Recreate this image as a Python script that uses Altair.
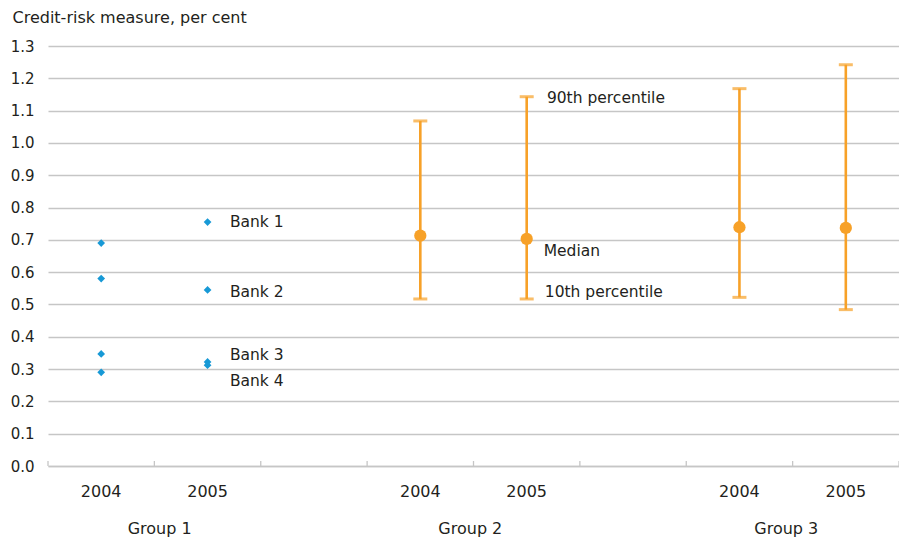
import altair as alt
import pandas as pd

FONT = "DejaVu Sans"
TXT = "#231f20"
GRID = "#c6c6c6"
BLUE = "#1799d6"
ORANGE = "#f7a128"

# category slots (8 slots, two empty spacers)
tick_pos = [0, 1, 2, 3, 4, 5, 6, 7, 8]
year_pos = [0.5, 1.5, 3.5, 4.5, 6.5, 7.5]
year_text = ["2004", "2005", "2004", "2005", "2004", "2005"]
group_pos = [1.05, 3.97, 6.94]
group_text = ["Group 1", "Group 2", "Group 3"]
y_ticks = [0.0, 0.1, 0.2, 0.3, 0.4, 0.5, 0.6, 0.7, 0.8, 0.9, 1.0, 1.1, 1.2, 1.3]

# Group 1: individual banks
bank_x = [0.5, 0.5, 0.5, 0.5, 1.5, 1.5, 1.5, 1.5]
bank_vals = [0.69, 0.58, 0.347, 0.29, 0.755, 0.545, 0.322, 0.312]

# Groups 2 and 3: percentiles
pct_x = [3.5, 4.5, 6.5, 7.5]
p10 = [0.517, 0.517, 0.522, 0.484]
median = [0.713, 0.703, 0.739, 0.737]
p90 = [1.068, 1.143, 1.168, 1.242]

# annotations
ann_text = ["Bank 1", "Bank 2", "Bank 3", "Bank 4",
            "90th percentile", "Median", "10th percentile"]
ann_x = [1.71, 1.71, 1.71, 1.71, 4.69, 4.66, 4.67]
ann_y = [0.755, 0.54, 0.344, 0.263, 1.139, 0.666, 0.539]

W, H = 851, 420
xs = alt.Scale(domain=[0, 8], nice=False, zero=False)
ys = alt.Scale(domain=[0, 1.3], nice=False)

banks = pd.DataFrame({"x": bank_x, "v": bank_vals})
pct = pd.DataFrame({"x": pct_x, "lo": p10, "med": median, "hi": p90})
ann = pd.DataFrame({"x": ann_x, "y": ann_y, "t": ann_text})
years = pd.DataFrame({"x": year_pos, "t": year_text})
groups = pd.DataFrame({"x": group_pos, "t": group_text})
ticks = pd.DataFrame({"x": tick_pos})

Y_AXIS = alt.Axis(
    values=y_ticks, format=".1f", labelOverlap=False, tickCount=14,
    grid=True, gridColor=GRID, gridWidth=1.3, domain=False, ticks=False,
    labelFont=FONT, labelFontSize=15, labelColor=TXT, labelPadding=14,
    title="Credit-risk measure, per cent", titleAngle=0, titleAlign="left",
    titleX=-36, titleY=-29, titleBaseline="middle", titleFont=FONT,
    titleFontSize=16, titleFontWeight="normal", titleColor=TXT,
)
X_AXIS = alt.Axis(
    values=tick_pos, labels=False, ticks=False, grid=False,
    domain=True, domainColor=GRID, domainWidth=1.5, title=None,
)


def X(field):
    return alt.X(field, scale=xs, axis=X_AXIS)


def Y(field):
    return alt.Y(field, scale=ys, axis=Y_AXIS)


bank_pts = alt.Chart(banks).mark_point(
    shape="diamond", filled=True, size=60, color=BLUE, opacity=1
).encode(x=X("x:Q"), y=Y("v:Q"))

tick_rules = alt.Chart(ticks).mark_rule(color=GRID, strokeWidth=1.3).encode(
    x=X("x:Q"), y=alt.value(H - 5), y2=alt.value(H)
)

bars = alt.Chart(pct).mark_rule(color=ORANGE, strokeWidth=2.6).encode(
    x=X("x:Q"), y=Y("lo:Q"), y2="hi:Q"
)
cap_lo = alt.Chart(pct).mark_tick(
    color=ORANGE, orient="horizontal", size=14, thickness=3
).encode(x=X("x:Q"), y=Y("lo:Q"))
cap_hi = alt.Chart(pct).mark_tick(
    color=ORANGE, orient="horizontal", size=14, thickness=3
).encode(x=X("x:Q"), y=Y("hi:Q"))
meds = alt.Chart(pct).mark_circle(size=150, color=ORANGE, opacity=1).encode(
    x=X("x:Q"), y=Y("med:Q")
)

ann_txt = alt.Chart(ann).mark_text(
    align="left", baseline="middle", font=FONT, fontSize=15.5, color=TXT
).encode(x=X("x:Q"), y=Y("y:Q"), text="t:N")

year_txt = alt.Chart(years).mark_text(
    align="center", baseline="middle", font=FONT, fontSize=16, color=TXT
).encode(x=X("x:Q"), y=alt.value(H + 26), text="t:N")

group_txt = alt.Chart(groups).mark_text(
    align="center", baseline="middle", font=FONT, fontSize=16, color=TXT
).encode(x=X("x:Q"), y=alt.value(H + 63), text="t:N")

chart = alt.layer(
    bank_pts, tick_rules, bars, cap_lo, cap_hi, meds, ann_txt, year_txt, group_txt
).properties(
    width=W, height=H,
    autosize=alt.AutoSizeParams(type="none"),
    padding={"left": 40, "top": 38, "right": 0, "bottom": 71},
    background="white",
).configure_view(stroke=None)

chart.save("out.html", embed_options={"renderer": "svg", "actions": False})
